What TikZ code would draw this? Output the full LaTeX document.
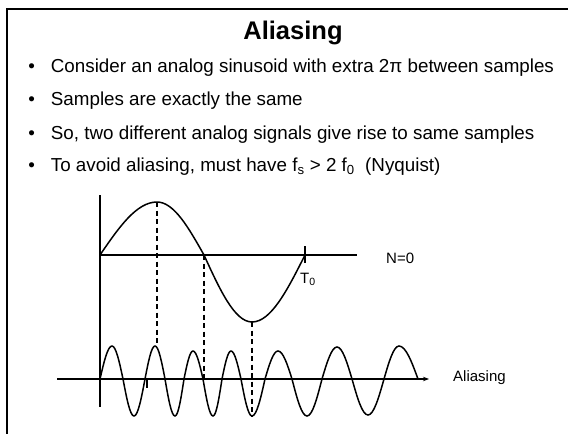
\documentclass[tikz,border=0pt]{standalone}
\usepackage{fontspec}
\setmainfont{Liberation Sans}
\usetikzlibrary{arrows.meta}
\begin{document}
\begin{tikzpicture}[x=1pt,y=-1pt,
  bodytext/.style={font=\fontsize{18.8}{22}\selectfont, inner sep=0pt, anchor=base west},
  bulletmark/.style={font=\fontsize{18.8}{22}\selectfont, inner sep=0pt, anchor=base},
  smalllabel/.style={font=\fontsize{15}{18}\selectfont, inner sep=0pt},
  curve/.style={line width=1.5pt},
  axisline/.style={line width=1.4pt},
  guide/.style={line width=1.3pt, dash pattern=on 5pt off 3.5pt},
  frameline/.style={line width=2.2pt}]
\useasboundingbox (0,0) rectangle (568,434);
% frame
\draw[frameline] (7,434) -- (7,9) -- (568,9);
% title
\node[inner sep=0pt, anchor=base, font=\fontsize{25.5}{30}\selectfont\bfseries] (title) at (293,39.3) {Aliasing};
% bullets
\foreach \y/\n in {72.7/1,105/2,139/3,171.7/4}{
  \node[bulletmark] (b\n) at (31.7,\y) {•};
}
\node[bodytext] (t1) at (50.7,72.7) {Consider an analog sinusoid with extra 2π between samples};
\node[bodytext] (t2) at (50.7,105) {Samples are exactly the same};
\node[bodytext] (t3) at (50.7,139) {So, two different analog signals give rise to same samples};
\node[bodytext] (t4) at (50.7,171.7) {To avoid aliasing, must have f\textsubscript{s} > 2 f\textsubscript{0}\ \ (Nyquist)};
% axes
\coordinate (vtop) at (100,195);
\coordinate (vbot) at (100,407);
\coordinate (o1) at (100,255);
\coordinate (h1end) at (357,255);
\coordinate (h2start) at (57,379);
\coordinate (h2end) at (429,379);
\draw[axisline] (vtop) -- (vbot);
\draw[axisline] (o1) -- (h1end);
\draw[axisline, -{Stealth[length=6pt,width=4.5pt]}] (h2start) -- (h2end);
% T0 tick
\coordinate (tk1) at (305,246);
\coordinate (tk2) at (305,263);
\draw[axisline] (tk1) -- (tk2);
% small tick on lower axis
\coordinate (tk3) at (147,379);
\coordinate (tk4) at (147,388);
\draw[line width=1.2pt] (tk3) -- (tk4);
% upper sinusoid
\draw[curve] (100,255) sin (157,202) cos (204,255) sin (252,322) cos (305,255);
% lower (aliased) sinusoid
\draw[curve] (100,379) sin (112,346) cos (123,379) sin (134,416) cos (145,379)
  sin (155,346) cos (165,379) sin (175,416) cos (184,379)
  sin (193,351) cos (203,379) sin (213,416) cos (222,379)
  sin (231,351) cos (241,379) sin (252,416) cos (265,379)
  sin (278,351) cos (292,379) sin (307,416) cos (322,379)
  sin (337,347) cos (352,379) sin (368,415) cos (384,379)
  sin (399,346) cos (418,379);
% dashed sample lines
\coordinate (d1a) at (157,202); \coordinate (d1b) at (157,346);
\coordinate (d2a) at (204,255); \coordinate (d2b) at (204,378);
\coordinate (d3a) at (252,322); \coordinate (d3b) at (252,416);
\draw[guide] (d1a) -- (d1b);
\draw[guide] (d2a) -- (d2b);
\draw[guide] (d3a) -- (d3b);
% labels
\node[smalllabel, anchor=base west] (T0) at (300,283) {T\textsubscript{0}};
\node[smalllabel, anchor=west] (N0) at (386,258) {N=0};
\node[smalllabel, anchor=west] (alias) at (453,378) {Aliasing};
\end{tikzpicture}
\end{document}
